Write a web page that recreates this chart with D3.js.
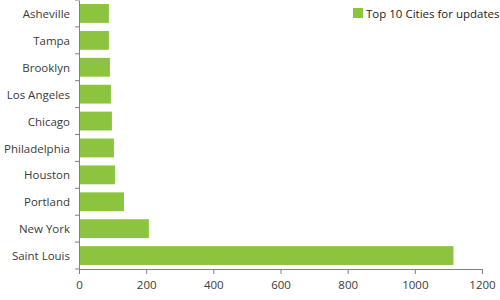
<!DOCTYPE html>
<html><head><meta charset="utf-8">
<script src="https://cdn.jsdelivr.net/npm/d3@7"></script>
<style>body{margin:0;background:#fff}svg{display:block}text{font-family:"Open Sans",sans-serif}</style>
</head><body><svg id="c" width="500" height="300"></svg>
<script>
const categories = ["Asheville","Tampa","Brooklyn","Los Angeles","Chicago","Philadelphia","Houston","Portland","New York","Saint Louis"];
const values = [89,89,92,95,98,104,107,134,208,1115];
const xTicks = [0,200,400,600,800,1000,1200];
const seriesName = "Top 10 Cities for updates";

const svg = d3.select("#c");
const m = {l:79, r:18, t:0, b:31};
const W = 500, H = 300;
const fs = "11.5px";
const x = d3.scaleLinear().domain([0,1200]).range([m.l, W-m.r]);
const y = d3.scaleBand().domain(categories).range([m.t, H-m.b]).paddingInner(0.3).paddingOuter(0.15);
const color = "#8DC43F", axisCol = "#808080", textCol = "#3a3a3a";

svg.append("g").selectAll("rect").data(categories).join("rect")
  .attr("x", x(0)).attr("y", d=>y(d))
  .attr("width", (d,i)=>x(values[i])-x(0)).attr("height", y.bandwidth())
  .attr("fill", color);

const ya = svg.append("g").attr("transform",`translate(${m.l},0)`)
  .call(d3.axisLeft(y).tickSize(0).tickPadding(9));
ya.select(".domain").attr("stroke", axisCol);
ya.selectAll("text").attr("fill", textCol).style("font-size",fs).attr("dy","0.4em");
const step = y.step();
const bounds = d3.range(categories.length+1).map(i=>m.t + i*step);
ya.selectAll(".bt").data(bounds).join("line").attr("class","bt")
  .attr("x1",-4).attr("x2",0).attr("y1",d=>d).attr("y2",d=>d).attr("stroke",axisCol);

const xa = svg.append("g").attr("transform",`translate(0,${H-m.b})`)
  .call(d3.axisBottom(x).tickValues(xTicks).tickFormat(d3.format("d")).tickSize(5).tickSizeOuter(0).tickPadding(7));
xa.select(".domain").attr("stroke", axisCol);
xa.selectAll("line").attr("stroke", axisCol);
xa.selectAll("text").attr("fill", textCol).style("font-size",fs);

const lg = svg.append("g").attr("transform","translate(353,8)");
lg.append("rect").attr("width",10).attr("height",10).attr("fill",color);
lg.append("text").attr("x",13).attr("y",9.5).attr("fill","#222").style("font-size",fs).text(seriesName);
</script></body></html>
